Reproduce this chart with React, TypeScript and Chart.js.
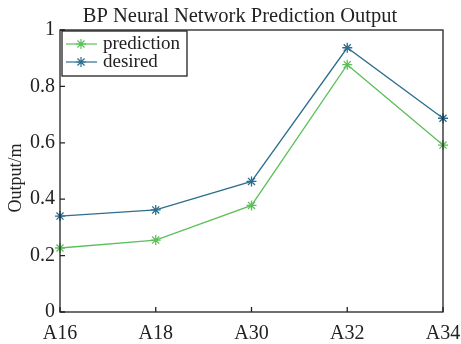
import React, { useEffect, useRef } from "react";
import { Chart, registerables } from "chart.js";

Chart.register(...registerables);

const categories = ["A16", "A18", "A30", "A32", "A34"];
const prediction = [0.227, 0.255, 0.378, 0.877, 0.592];
const desired = [0.340, 0.362, 0.463, 0.937, 0.687];
const yTicks = [0, 0.2, 0.4, 0.6, 0.8, 1];
const titleText = "BP Neural Network Prediction Output";
const yTitle = "Output/m";

const GREEN = "#5dbf5a";
const BLUE = "#2d6e8f";
const FONT = "'Liberation Serif', 'Times New Roman', serif";

const boxPlugin = {
  id: "boxPlugin",
  afterDraw(chart: any) {
    const { ctx, chartArea } = chart;
    const { left, right, top, bottom } = chartArea;
    ctx.save();
    // title
    ctx.fillStyle = "#222";
    ctx.font = `20.5px ${FONT}`;
    ctx.textAlign = "center";
    ctx.textBaseline = "alphabetic";
    ctx.fillText(titleText, 240, 22);
    // y title
    ctx.save();
    ctx.translate(21, 178);
    ctx.rotate(-Math.PI / 2);
    ctx.font = `18px ${FONT}`;
    ctx.textAlign = "center";
    ctx.fillText(yTitle, 0, 0);
    ctx.restore();

    ctx.strokeStyle = "#222";
    ctx.lineWidth = 1.3;
    ctx.strokeRect(left, top, right - left, bottom - top);
    // inward ticks
    const xs = chart.scales.x;
    const ys = chart.scales.y;
    ctx.beginPath();
    for (let i = 0; i < categories.length; i++) {
      const x = xs.getPixelForValue(i);
      ctx.moveTo(x, bottom);
      ctx.lineTo(x, bottom - 5);
    }
    for (const v of yTicks) {
      const y = ys.getPixelForValue(v);
      ctx.moveTo(left, y);
      ctx.lineTo(left + 5, y);
    }
    ctx.stroke();
    // legend box
    const lx = left + 2;
    const ly = top + 1;
    const lw = 125;
    const lh = 45;
    ctx.fillStyle = "#fff";
    ctx.fillRect(lx, ly, lw, lh);
    ctx.strokeRect(lx, ly, lw, lh);
    const items = [
      { label: "prediction", color: GREEN },
      { label: "desired", color: BLUE },
    ];
    items.forEach((it, i) => {
      const y = ly + 13 + i * 18;
      ctx.strokeStyle = it.color;
      ctx.lineWidth = 1.2;
      ctx.beginPath();
      ctx.moveTo(lx + 4, y);
      ctx.lineTo(lx + 35, y);
      ctx.stroke();
      const cx = lx + 19;
      const r = 5;
      ctx.beginPath();
      ctx.moveTo(cx - r, y);
      ctx.lineTo(cx + r, y);
      ctx.moveTo(cx, y - r);
      ctx.lineTo(cx, y + r);
      const d = r * 0.707;
      ctx.moveTo(cx - d, y - d);
      ctx.lineTo(cx + d, y + d);
      ctx.moveTo(cx - d, y + d);
      ctx.lineTo(cx + d, y - d);
      ctx.stroke();
      ctx.fillStyle = "#222";
      ctx.font = `19px ${FONT}`;
      ctx.textBaseline = "middle";
      ctx.textAlign = "left";
      ctx.fillText(it.label, lx + 41, y);
    });
    ctx.restore();
  },
};

export default function App() {
  const ref = useRef<HTMLCanvasElement>(null);
  useEffect(() => {
    document.body.style.margin = "0";
    const chart = new Chart(ref.current!, {
      type: "line",
      data: {
        labels: categories,
        datasets: [
          {
            label: "prediction",
            data: prediction,
            borderColor: GREEN,
            backgroundColor: GREEN,
            borderWidth: 1.3,
            pointStyle: "star",
            pointRadius: 5,
            pointBorderWidth: 1.3,
            pointBorderColor: GREEN,
            tension: 0,
          },
          {
            label: "desired",
            data: desired,
            borderColor: BLUE,
            backgroundColor: BLUE,
            borderWidth: 1.3,
            pointStyle: "star",
            pointRadius: 5,
            pointBorderWidth: 1.3,
            pointBorderColor: BLUE,
            tension: 0,
          },
        ],
      },
      options: {
        animation: false,
        responsive: false,
        layout: { padding: { right: 18, top: 30, left: 0, bottom: 0 } },
        plugins: {
          legend: { display: false },
          tooltip: { enabled: false },
          title: { display: false },
        },
        scales: {
          x: {
            type: "category",
            offset: false,
            grid: { display: false, drawTicks: false },
            border: { display: false },
            ticks: {
              color: "#222",
              font: { family: FONT, size: 20 },
              padding: 10,
              maxRotation: 0,
              autoSkip: false,
            },
            afterFit(scale: any) {
              scale.height = 32;
              scale.paddingLeft = 0;
              scale.paddingRight = 0;
            },
          },
          y: {
            min: 0,
            max: 1,
            grid: { display: false, drawTicks: false },
            border: { display: false },
            afterBuildTicks(scale: any) {
              scale.ticks = yTicks.map((v) => ({ value: v }));
            },
            ticks: {
              color: "#222",
              font: { family: FONT, size: 20 },
              padding: 5,
              callback: (v: any) => String(v),
            },
            afterFit(scale: any) {
              scale.width = 60;
              scale.paddingTop = 0;
              scale.paddingBottom = 0;
            },
          },
        },
      },
      plugins: [boxPlugin],
    });
    return () => chart.destroy();
  }, []);
  return (
    <div style={{ position: "absolute", left: 0, top: 0, width: 461, height: 344, background: "#fff" }}>
      <canvas ref={ref} width={461} height={344} />
    </div>
  );
}
